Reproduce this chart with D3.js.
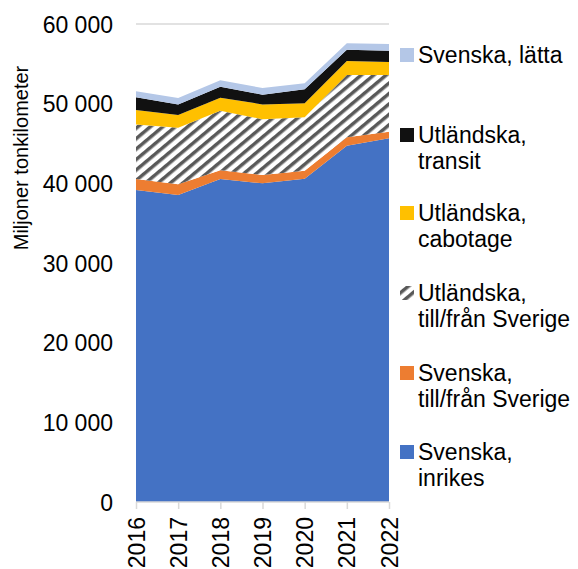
<!DOCTYPE html>
<html>
<head>
<meta charset="utf-8">
<script src="https://cdn.jsdelivr.net/npm/d3@7"></script>
<style>
html,body{margin:0;padding:0;background:#fff;}
text{font-family:"Liberation Sans",Arial,sans-serif;fill:#000;}
</style>
</head>
<body>
<svg id="chart" width="578" height="569"></svg>
<script>
const years = ["2016","2017","2018","2019","2020","2021","2022"];
const svInrikes   = [39160, 38530, 40540, 40000, 40580, 44720, 45650];
const svTillFran  = [1380, 1340, 1090, 1040, 1010, 1050, 830];
const utTillFran  = [6860, 7110, 7490, 6990, 6690, 7830, 7120];
const utCabotage  = [1800, 1600, 1630, 1880, 1760, 1750, 1630];
const utTransit   = [1600, 1330, 1380, 1220, 1760, 1420, 1420];
const svLatta     = [750, 790, 800, 830, 750, 800, 840];
const yTicks = [0, 10000, 20000, 30000, 40000, 50000, 60000];
const seriesNames = ["Svenska, inrikes","Svenska, till/från Sverige","Utländska, till/från Sverige","Utländska, cabotage","Utländska, transit","Svenska, lätta"];
const legendLines = [["Svenska,","inrikes"],["Svenska,","till/från Sverige"],["Utländska,","till/från Sverige"],["Utländska,","cabotage"],["Utländska,","transit"],["Svenska, lätta"]];
const seriesValues = [svInrikes, svTillFran, utTillFran, utCabotage, utTransit, svLatta];
const colors = ["#4472C4","#ED7D31","url(#hatch)","#FFC000","#111111","#B4C7E7"];

const svg = d3.select("#chart");
const defs = svg.append("defs");
const pat = defs.append("pattern").attr("id","hatch").attr("patternUnits","userSpaceOnUse")
  .attr("width",8).attr("height",8).attr("patternTransform","rotate(-40)");
pat.append("rect").attr("width",8).attr("height",8).attr("fill","#fff");
pat.append("rect").attr("x",0).attr("y",0).attr("width",8).attr("height",3.5).attr("fill","#595959");

const table = years.map((y,i)=>{const o={year:y}; seriesNames.forEach((n,k)=>o[n]=seriesValues[k][i]); return o;});
const stack = d3.stack().keys(seriesNames)(table);

const x = d3.scalePoint().domain(years).range([136,389]);
const y = d3.scaleLinear().domain([0,60000]).range([502,24]);

// gridlines
svg.append("g").selectAll("line").data(yTicks.filter(d=>d>0)).join("line")
  .attr("x1",136).attr("x2",389).attr("y1",d=>y(d)).attr("y2",d=>y(d))
  .attr("stroke","#d9d9d9").attr("stroke-width",1.3);

const area = d3.area().x(d=>x(d.data.year)).y0(d=>y(d[0])).y1(d=>y(d[1]));
svg.append("g").selectAll("path").data(stack).join("path")
  .attr("d",area).attr("fill",(d,i)=>colors[i]);

// y axis labels
const yAxis = d3.axisLeft(y).tickValues(yTicks).tickSize(0).tickPadding(0)
  .tickFormat(d=>d3.format(",")(d).replace(/,/g," "));
const gy = svg.append("g").attr("transform","translate(113,0)").call(yAxis);
gy.select(".domain").remove();
gy.selectAll("text").attr("font-size",23).attr("font-family","Liberation Sans, Arial, sans-serif").attr("fill","#000").attr("dy","0.35em");

// x axis
const xAxis = d3.axisBottom(x).tickSize(7).tickPadding(0);
const gx = svg.append("g").attr("transform","translate(0,502)").call(xAxis);
gx.select(".domain").attr("stroke","#d9d9d9").attr("stroke-width",1.5).attr("d","M136,0H389");
gx.selectAll(".tick line").attr("stroke","#d9d9d9").attr("stroke-width",1.5);
gx.selectAll("text").attr("font-size",23).attr("font-family","Liberation Sans, Arial, sans-serif").attr("fill","#000")
  .attr("text-anchor","end").attr("transform","translate(0,15) rotate(-90)").attr("x",0).attr("y",0).attr("dy","0.35em");

// y axis title
svg.append("text").attr("transform","translate(28,158) rotate(-90)").attr("text-anchor","middle")
  .attr("font-size",20).text("Miljoner tonkilometer");

// legend
const legendOrder = [5,4,3,2,1,0];
const legendY = [55,135,213,293,373,452];
const lg = svg.append("g");
legendOrder.forEach((k,j)=>{
  const cy = legendY[j];
  lg.append("rect").attr("x",400).attr("y",cy-7).attr("width",14).attr("height",14).attr("fill",colors[k]);
  legendLines[k].forEach((t,li)=>{
    lg.append("text").attr("x",418).attr("y",cy+li*26).attr("dy","0.35em").attr("font-size",23).text(t);
  });
});
</script>
</body>
</html>
